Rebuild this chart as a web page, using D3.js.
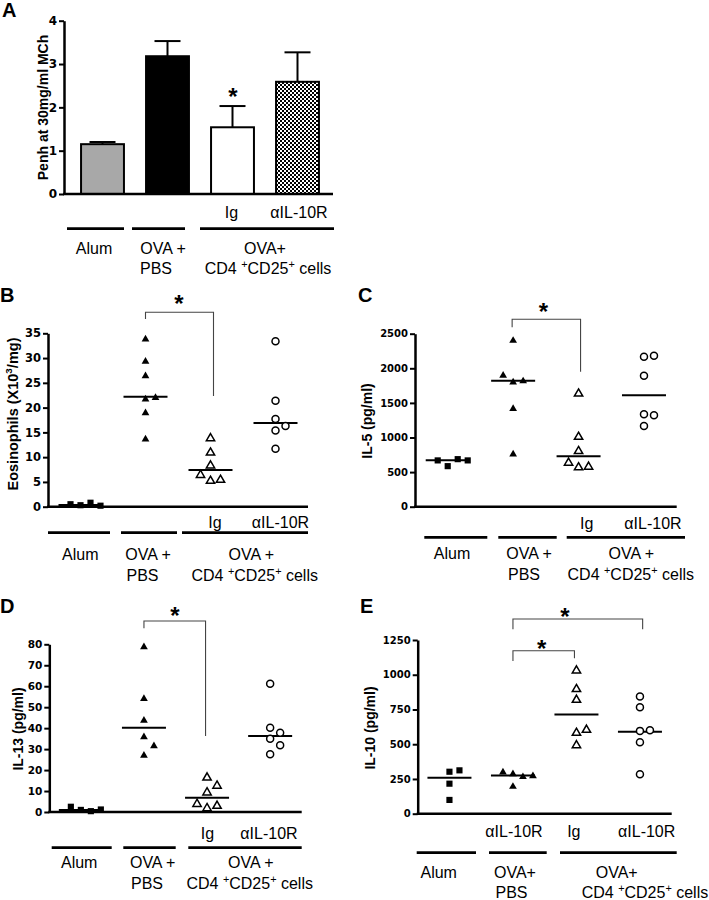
<!DOCTYPE html>
<html><head><meta charset="utf-8">
<script src="https://cdn.jsdelivr.net/npm/d3@7"></script>
<style>body{margin:0;background:#fff}</style>
</head><body><svg id="c" width="709" height="900"></svg>
<script>
// ---------------- DATA ----------------
const groupKeys = ["Alum", "OVA+PBS", "Ig", "aIL-10R"];

// Panel A: Penh at 30 mg/ml MCh (mean + SEM)
const penhMean = [1.15, 3.18, 1.54, 2.59];
const penhSEM = [0.05, 0.35, 0.49, 0.68];
const penhTicks = [0, 1, 2, 3, 4];

// Panel B: Eosinophils (x10^3/mg)
const eosValues = [
  [0.3, 0.8, 0.5, 0.2],
  [33.8, 29.3, 26.4, 21.7, 22.0, 18.9, 13.6],
  [13.8, 10.9, 8.3, 5.2, 5.4, 6.4],
  [33.4, 21.4, 17.7, 15.4, 16.3, 11.7]
];
const eosLine = [0.35, 22.2, 7.4, 16.9];
const eosTicks = [0, 5, 10, 15, 20, 25, 30, 35];

// Panel C: IL-5 (pg/ml)
const il5Values = [
  [586, 687, 669, 669],
  [2400, 1800, 1815, 1897, 1417, 759],
  [1633, 1008, 802, 567, 576, 634],
  [2166, 2181, 1893, 1335, 1321, 1167]
];
const il5Line = [670, 1821, 730, 1610];
const il5Ticks = [0, 500, 1000, 1500, 2000, 2500];

// Panel D: IL-13 (pg/ml)
const il13Values = [
  [1.0, 0.4, 2.5, 1.2],
  [78.7, 54, 43.7, 35.8, 31.5, 27],
  [16.4, 12.5, 9.3, 1.8, 2.9, 3.8],
  [61.2, 40.2, 37.8, 35, 31.8, 27.5]
];
const il13Line = [1.0, 40.2, 6.8, 36.3];
const il13Ticks = [0, 10, 20, 30, 40, 50, 60, 70, 80];

// Panel E: IL-10 (pg/ml)
const il10Values = [
  [302, 312, 216, 99],
  [285, 265, 298, 272, 195],
  [1030, 896, 819, 581, 603, 492],
  [843, 766, 596, 600, 514, 284]
];
const il10Line = [259, 274, 713, 590];
const il10Ticks = [0, 250, 500, 750, 1000, 1250];

// ---------------- DRAWING ----------------
const SANS = "'Liberation Sans', Arial, sans-serif";
const svg = d3.select("#c");
svg.append("rect").attr("width", 709).attr("height", 900).attr("fill", "#fff");

const defs = svg.append("defs");
const pat = defs.append("pattern").attr("id", "checker").attr("patternUnits", "userSpaceOnUse")
  .attr("width", 4).attr("height", 4);
pat.append("rect").attr("width", 4).attr("height", 4).attr("fill", "#fff");
pat.append("rect").attr("width", 2).attr("height", 2).attr("fill", "#000");
pat.append("rect").attr("x", 2).attr("y", 2).attr("width", 2).attr("height", 2).attr("fill", "#000");

const CD4 = [{t: "CD4 "}, {t: "+", sup: true}, {t: "CD25"}, {t: "+", sup: true}, {t: " cells"}];

function richText(g, x, y, parts, size, anchor, weight) {
  const t = g.append("text").attr("x", x).attr("y", y)
    .attr("font-family", SANS).attr("font-size", size)
    .attr("font-weight", weight || "normal")
    .attr("text-anchor", anchor || "middle").attr("fill", "#000");
  let shifted = false;
  parts.forEach(p => {
    const ts = t.append("tspan").text(p.t);
    if (p.sup && !shifted) { ts.attr("dy", -size * 0.38).attr("font-size", size * 0.68); shifted = true; }
    else if (!p.sup && shifted) { ts.attr("dy", size * 0.38); shifted = false; }
    else if (p.sup) { ts.attr("font-size", size * 0.68); }
  });
  return t;
}

function panelLetter(x, y, s) {
  svg.append("text").attr("x", x).attr("y", y).text(s)
    .attr("font-family", SANS).attr("font-weight", "bold").attr("font-size", 20);
}

function yAxis(y, ticks, x0, x1, fs) {
  const ax = svg.append("g").attr("transform", `translate(${x0},0)`)
    .call(d3.axisLeft(y).tickValues(ticks).tickFormat(d3.format("d"))
      .tickSize(5).tickSizeOuter(0).tickPadding(2));
  ax.select(".domain").attr("stroke", "#000").attr("stroke-width", 2.5);
  ax.selectAll(".tick line").attr("stroke", "#000").attr("stroke-width", 2);
  ax.selectAll(".tick text").attr("font-family", "'DejaVu Sans', sans-serif")
    .attr("font-weight", "bold").attr("font-size", fs).attr("fill", "#000");
  svg.append("line").attr("x1", x0 - 1).attr("x2", x1).attr("y1", y(0)).attr("y2", y(0))
    .attr("stroke", "#000").attr("stroke-width", 2.5);
}

function yLabel(x, yc, parts, size) {
  const g = svg.append("g").attr("transform", `translate(${x},${yc}) rotate(-90)`);
  richText(g, 0, 0, parts, size, "middle", "bold").attr("dominant-baseline", "central");
}

function groupLabels(cfg) {
  cfg.segs.forEach(s => svg.append("line").attr("x1", s[0]).attr("x2", s[1])
    .attr("y1", cfg.lineY).attr("y2", cfg.lineY).attr("stroke", "#000").attr("stroke-width", 2.8));
  cfg.labels.forEach(l => richText(svg, l.x, l.y, typeof l.t === "string" ? [{t: l.t}] : l.t, 16, l.anchor || "middle"));
  cfg.subs.forEach(l => richText(svg, l.x, l.y, [{t: l.t}], 16, "middle"));
}

function star(x, yc) {
  svg.append("text").attr("x", x).attr("y", yc + 14).text("*")
    .attr("font-family", SANS).attr("font-weight", "bold").attr("font-size", 24)
    .attr("text-anchor", "middle");
}

function bracket(xl, xr, yTop, yLeftBot, yRightBot) {
  svg.append("path").attr("d", `M${xl},${yLeftBot} V${yTop} H${xr} V${yRightBot}`)
    .attr("fill", "none").attr("stroke", "#444").attr("stroke-width", 1.1);
}

function dodge(vals, y, step) {
  const placed = [];
  return vals.map(v => {
    const py = y(v);
    const cands = [0, step, -step, 2 * step, -2 * step, 3 * step];
    let off = 0;
    for (const c of cands) {
      if (!placed.some(p => Math.abs(p.dx - c) < step * 0.9 && Math.abs(p.py - py) < 10.5)) { off = c; break; }
    }
    placed.push({dx: off, py});
    return {v, dx: off, py};
  });
}

const markerKinds = ["square", "tri", "otri", "ocircle"];
function drawMarker(g, kind, cx, cy) {
  if (kind === "square") {
    g.append("path").attr("d", d3.symbol().type(d3.symbolSquare).size(38)())
      .attr("transform", `translate(${cx},${cy})`).attr("fill", "#000");
  } else if (kind === "tri") {
    g.append("path").attr("d", d3.symbol().type(d3.symbolTriangle).size(26)())
      .attr("transform", `translate(${cx},${cy})`).attr("fill", "#000");
  } else if (kind === "otri") {
    g.append("path").attr("d", d3.symbol().type(d3.symbolTriangle).size(30)())
      .attr("transform", `translate(${cx},${cy})`).attr("fill", "#fff")
      .attr("stroke", "#000").attr("stroke-width", 1.5);
  } else {
    g.append("circle").attr("cx", cx).attr("cy", cy).attr("r", 3.5)
      .attr("fill", "#fff").attr("stroke", "#000").attr("stroke-width", 1.5);
  }
}

function scatterPanel(values, lines, ticks, yDom, yRange, x0, x1, fs, kinds) {
  const y = d3.scaleLinear().domain(yDom).range(yRange);
  const x = d3.scaleBand().domain(groupKeys).range([x0, x1]).padding(0);
  yAxis(y, ticks, x0, x1, fs);
  const g = svg.append("g");
  groupKeys.forEach((k, i) => {
    const cx = x(k) + x.bandwidth() / 2;
    g.append("line").attr("x1", cx - 22).attr("x2", cx + 22)
      .attr("y1", y(lines[i])).attr("y2", y(lines[i])).attr("stroke", "#000").attr("stroke-width", 2);
    dodge(values[i], y, 10).forEach(p => drawMarker(g, kinds[i], cx + p.dx, p.py));
  });
  return {x, y};
}

// ---------- Panel A ----------
panelLetter(2, 17, "A");
{
  const y = d3.scaleLinear().domain([0, 4]).range([194, 20.7]);
  const x = d3.scaleBand().domain(groupKeys).range([70, 330]).paddingInner(0.34).paddingOuter(0.17);
  const fills = ["#a8a8a8", "#000", "#fff", "url(#checker)"];
  groupKeys.forEach((k, i) => {
    const cx = x(k) + x.bandwidth() / 2;
    svg.append("line").attr("x1", cx).attr("x2", cx).attr("y1", y(penhMean[i]))
      .attr("y2", y(penhMean[i] + penhSEM[i])).attr("stroke", "#000").attr("stroke-width", 2);
    svg.append("line").attr("x1", cx - 13).attr("x2", cx + 13)
      .attr("y1", y(penhMean[i] + penhSEM[i])).attr("y2", y(penhMean[i] + penhSEM[i]))
      .attr("stroke", "#000").attr("stroke-width", 2);
    svg.append("rect").attr("x", x(k)).attr("width", x.bandwidth())
      .attr("y", y(penhMean[i])).attr("height", y(0) - y(penhMean[i]))
      .attr("fill", fills[i]).attr("stroke", "#000").attr("stroke-width", 2);
  });
  yAxis(y, penhTicks, 64, 333, 12);
  yLabel(42.5, 107.5, [{t: "Penh at 30mg/ml MCh"}], 14);
  star(233, 91);
  groupLabels({
    lineY: 228.7, segs: [[67, 124], [132, 185], [200, 334]],
    labels: [{x: 94, y: 254, t: "Alum"}, {x: 163, y: 254, t: "OVA +"}, {x: 156, y: 274, t: "PBS"},
             {x: 265, y: 254, t: "OVA+"}, {x: 268, y: 274, t: CD4}],
    subs: [{x: 231.5, y: 218.3, t: "Ig"}, {x: 299, y: 218.3, t: "\u03B1IL-10R"}]
  });
}

// ---------- Panel B ----------
panelLetter(0, 302, "B");
{
  const s = scatterPanel(eosValues, eosLine, eosTicks, [0, 35], [506.7, 333.3], 48, 308, 11.5, markerKinds);
  yLabel(13, 414, [{t: "Eosinophils (X10"}, {t: "3", sup: true}, {t: "/mg)"}], 14.5);
  const c = k => s.x(k) + s.x.bandwidth() / 2;
  bracket(c("OVA+PBS"), c("Ig") + 3, 312.3, 319, 396);
  star(179, 297.5);
  groupLabels({
    lineY: 532.7, segs: [[48, 110], [121, 177], [182, 308]],
    labels: [{x: 80.3, y: 560, t: "Alum"}, {x: 148, y: 560, t: "OVA +"}, {x: 142.5, y: 581, t: "PBS"},
             {x: 251.3, y: 560, t: "OVA +"}, {x: 254.7, y: 581, t: CD4}],
    subs: [{x: 215, y: 528.3, t: "Ig"}, {x: 280.5, y: 528.3, t: "\u03B1IL-10R"}]
  });
}

// ---------- Panel C ----------
panelLetter(358, 302, "C");
{
  const s = scatterPanel(il5Values, il5Line, il5Ticks, [0, 2500], [506.7, 333.7], 415, 676.7, 10, markerKinds);
  yLabel(367, 421, [{t: "IL-5 (pg/ml)"}], 14);
  const c = k => s.x(k) + s.x.bandwidth() / 2;
  bracket(c("OVA+PBS") - 1, c("Ig") + 2, 319.3, 327.3, 371.7);
  star(543.3, 306);
  groupLabels({
    lineY: 537.3, segs: [[424.3, 487.3], [498.3, 556.7], [566.7, 685]],
    labels: [{x: 452, y: 559, t: "Alum"}, {x: 529, y: 559, t: "OVA +"}, {x: 524, y: 580, t: "PBS"},
             {x: 631.3, y: 559, t: "OVA +"}, {x: 630.8, y: 580, t: CD4}],
    subs: [{x: 586.7, y: 529.3, t: "Ig"}, {x: 653, y: 529.3, t: "\u03B1IL-10R"}]
  });
}

// ---------- Panel D ----------
panelLetter(0, 613, "D");
{
  const s = scatterPanel(il13Values, il13Line, il13Ticks, [0, 80], [812, 644.3], 49.3, 301.7, 10.5, markerKinds);
  yLabel(18, 729, [{t: "IL-13 (pg/ml)"}], 14);
  const c = k => s.x(k) + s.x.bandwidth() / 2;
  bracket(c("OVA+PBS"), c("Ig") - 1.5, 621, 628.3, 736);
  star(175, 610);
  groupLabels({
    lineY: 847.7, segs: [[51.7, 111.7], [123.3, 175.7], [188.3, 301.7]],
    labels: [{x: 79.2, y: 868.3, t: "Alum"}, {x: 152.7, y: 868.3, t: "OVA +"}, {x: 147, y: 889, t: "PBS"},
             {x: 250.8, y: 868.3, t: "OVA +"}, {x: 249.7, y: 889, t: CD4}],
    subs: [{x: 207.5, y: 839, t: "Ig"}, {x: 269, y: 839, t: "\u03B1IL-10R"}]
  });
}

// ---------- Panel E ----------
panelLetter(360, 613, "E");
{
  const s = scatterPanel(il10Values, il10Line, il10Ticks, [0, 1250], [813.7, 640], 417.7, 671.7, 10, markerKinds);
  yLabel(370, 728, [{t: "IL-10 (pg/ml)"}], 14);
  const c = k => s.x(k) + s.x.bandwidth() / 2;
  bracket(c("OVA+PBS"), c("aIL-10R") + 2.7, 619, 629.3, 629.3);
  star(565, 610.7);
  bracket(c("OVA+PBS"), c("Ig") - 2, 650.7, 661, 658.3);
  star(541.7, 642.7);
  groupLabels({
    lineY: 852.7, segs: [[416.7, 476], [489, 546.7], [560, 676.7]],
    labels: [{x: 438.7, y: 877.7, t: "Alum"}, {x: 515, y: 877.7, t: "OVA+"}, {x: 511.5, y: 898.3, t: "PBS"},
             {x: 616.7, y: 877.7, t: "OVA+"}, {x: 581.7, y: 898.3, t: CD4, anchor: "start"}],
    subs: [{x: 514, y: 837.3, t: "\u03B1IL-10R"}, {x: 573.8, y: 837.3, t: "Ig"}, {x: 646.7, y: 837.3, t: "\u03B1IL-10R"}]
  });
}
</script>
</body></html>
